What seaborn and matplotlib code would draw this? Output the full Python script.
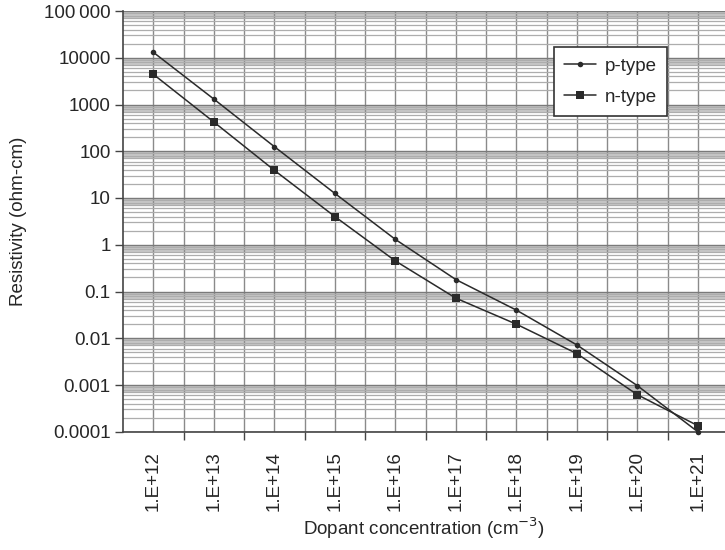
import numpy as np
import pandas as pd
import matplotlib.pyplot as plt
import seaborn as sns
from matplotlib.ticker import FixedLocator, NullFormatter

# Data
concentration = ["1.E+12", "1.E+13", "1.E+14", "1.E+15", "1.E+16",
                 "1.E+17", "1.E+18", "1.E+19", "1.E+20", "1.E+21"]
p_type = [13000, 1300, 125, 12.5, 1.3, 0.18, 0.04, 0.0072, 0.00097, 0.0001]
n_type = [4400, 420, 39, 4.0, 0.45, 0.072, 0.02, 0.0047, 0.00062, 0.000135]

y_ticks = [1e-4, 1e-3, 1e-2, 1e-1, 1, 10, 100, 1000, 10000, 100000]
y_labels = ["0.0001", "0.001", "0.01", "0.1", "1", "10", "100",
            "1000", "10000", "100\u2009000"]

df = pd.DataFrame({
    "conc": concentration * 2,
    "res": p_type + n_type,
    "type": ["p-type"] * len(p_type) + ["n-type"] * len(n_type),
})

sns.set_style("white")
plt.rcParams["font.family"] = ["Liberation Sans", "DejaVu Sans"]

fig = plt.figure(figsize=(7.25, 5.5), dpi=100)
ax = fig.add_axes([0.17, 0.215, 0.83, 0.765])

ax.set_yscale("log")

# grey bands in the top of each decade, like the original sheet
for e in range(-4, 5):
    ax.axhspan(0.7 * 10 ** (e + 1), 10 ** (e + 1), color="#c8c8c8", lw=0, zorder=0)

sns.lineplot(data=df[df["type"] == "p-type"], x="conc", y="res", ax=ax,
             color="#2a2a2a", lw=1.1, marker="o", markersize=4,
             markeredgewidth=0, label="p-type", zorder=3, clip_on=False)
sns.lineplot(data=df[df["type"] == "n-type"], x="conc", y="res", ax=ax,
             color="#2a2a2a", lw=1.1, marker="s", markersize=6,
             markeredgewidth=0, label="n-type", zorder=3, clip_on=False)

ax.set_ylim(1e-4, 1e5)
ax.set_xlim(-0.5, 9.45)

ax.set_yticks(y_ticks)
ax.set_yticklabels(y_labels)
minor_y = [m * 10.0 ** e for e in range(-4, 5) for m in range(2, 10)]
ax.yaxis.set_minor_locator(FixedLocator(minor_y))
ax.yaxis.set_minor_formatter(NullFormatter())

ax.set_xticks(range(len(concentration)))
ax.set_xticklabels(concentration, rotation=90)
ax.xaxis.set_minor_locator(FixedLocator(np.arange(0.5, 9.5, 1.0)))

ax.grid(True, which="major", axis="y", color="#7a7a7a", lw=1.0, zorder=1)
ax.grid(True, which="minor", axis="y", color="#adadad", lw=0.9, zorder=1)
ax.grid(True, which="both", axis="x", color="#8a8a8a", lw=1.0, zorder=1)
ax.set_axisbelow(True)

ax.tick_params(axis="y", which="major", length=6, width=1, color="#444",
               labelsize=13.5, pad=3, left=True)
ax.tick_params(axis="y", which="minor", length=0)
ax.tick_params(axis="x", which="major", length=0, labelsize=13.5, pad=14)
ax.tick_params(axis="x", which="minor", length=6, width=1, color="#444",
               bottom=True)

for side in ["top", "right"]:
    ax.spines[side].set_visible(False)
for side in ["left", "bottom"]:
    ax.spines[side].set_color("#444")
    ax.spines[side].set_linewidth(1.2)

ax.set_xlabel("Dopant concentration (cm$^{-3}$)", fontsize=13.5, labelpad=3)
ax.set_ylabel("Resistivity (ohm-cm)", fontsize=13.5, labelpad=12)

leg = ax.legend(loc="upper right", bbox_to_anchor=(0.904, 0.914),
                borderaxespad=0, fontsize=13.5, frameon=True, fancybox=False,
                framealpha=1, edgecolor="#333", borderpad=0.55,
                labelspacing=0.75, handlelength=1.7, handletextpad=0.45)
leg.get_frame().set_linewidth(1.2)

fig.savefig("out.png", dpi=100)
